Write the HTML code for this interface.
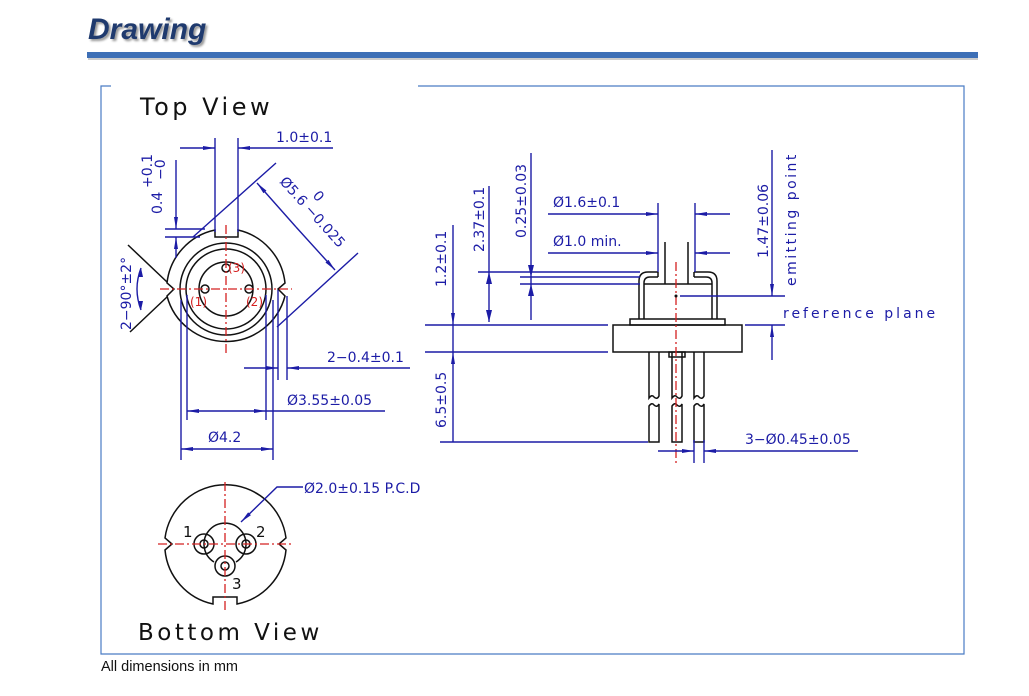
<!DOCTYPE html>
<html><head><meta charset="utf-8"><style>
html,body{margin:0;padding:0;background:#fff;}
svg{display:block;}
.d{fill:none;stroke:#1c1ca6;stroke-width:1.4}
.k{fill:none;stroke:#111;stroke-width:1.5}
.r{fill:none;stroke:#d42020;stroke-width:1.3;stroke-dasharray:9,3,2,3}
.t{font-family:"DejaVu Sans","Liberation Sans",sans-serif;font-size:14px;fill:#1c1ca6}
.b{font-family:"DejaVu Sans","Liberation Sans",sans-serif;fill:#111}
.a{fill:#1c1ca6;stroke:none}
</style></head><body>
<svg width="1029" height="696" viewBox="0 0 1029 696" xmlns="http://www.w3.org/2000/svg">
<defs>
<marker id="ar" markerWidth="12" markerHeight="6" refX="12" refY="3" orient="auto" markerUnits="userSpaceOnUse"><path d="M0,1 L12,3 L0,5z" fill="#1c1ca6"/></marker>
</defs>
<!-- header -->
<text x="88" y="39" font-family="Liberation Sans,sans-serif" font-size="30" font-style="italic" font-weight="bold" fill="#1f3a6e" style="text-shadow:2px 2px 2px #999">Drawing</text>
<rect x="88" y="55" width="890" height="5" fill="#aaa" opacity="0.6"/>
<rect x="87" y="52" width="891" height="6" fill="#3d6fb6"/>
<!-- frame -->
<path d="M111,86 H101 V654 H964 V86 H418" fill="none" stroke="#4a7cc4" stroke-width="1.2"/>
<text x="140" y="115" class="b" font-size="24" letter-spacing="3.5">Top View</text>
<text x="138" y="640" class="b" font-size="23" letter-spacing="3.5">Bottom View</text>
<text x="101" y="671" font-family="Liberation Sans,sans-serif" font-size="14.5" fill="#111">All dimensions in mm</text>

<!-- TOP VIEW -->
<path class="k" d="M215,230 A61,61 0 0 0 167,283 L174,289 L167,296 A61,61 0 0 0 285,296 L278,289 L285,283 A61,61 0 0 0 238,230 L238,237 L215,237 Z"/>
<circle class="k" cx="226" cy="289" r="46"/>
<circle class="k" cx="226" cy="289" r="40"/>
<circle class="k" cx="226" cy="289" r="27"/>
<circle class="k" cx="205" cy="289" r="4"/>
<circle class="k" cx="249" cy="289" r="4"/>
<circle class="k" cx="226" cy="268" r="4"/>
<path class="r" d="M226,225 V355 M160,289 H292"/>
<text x="228" y="272" font-family="DejaVu Sans,sans-serif" font-size="12" fill="#d42020">(3)</text>
<text x="190" y="306" font-family="DejaVu Sans,sans-serif" font-size="12" fill="#d42020">(1)</text>
<text x="246" y="306" font-family="DejaVu Sans,sans-serif" font-size="12" fill="#d42020">(2)</text>
<!-- 1.0 -->
<path class="d" d="M215,138 V232 M238,138 V232"/>
<path class="d" d="M180,148 H215" marker-end="url(#ar)"/><path class="d" d="M333,148 H238" marker-end="url(#ar)"/>
<text x="276" y="142" class="t">1.0±0.1</text>
<!-- 0.4 -->
<path class="d" d="M165,229 H205 M165,237 H200"/>
<path class="d" d="M176,160 V229" marker-end="url(#ar)"/><path class="d" d="M176,258 V237" marker-end="url(#ar)"/>
<text transform="translate(162,214) rotate(-90)" class="t">0.4</text>
<text transform="translate(152,188) rotate(-90)" class="t" font-size="12">+0.1</text>
<text transform="translate(165,180) rotate(-90)" class="t" font-size="12">−0</text>
<!-- 5.6 -->
<path class="d" d="M193,237 L276,163 M277,327 L358,253"/>
<path class="d" d="M296,227 L257,183" marker-end="url(#ar)"/><path class="d" d="M296,227 L335,270" marker-end="url(#ar)"/>
<text transform="translate(279,182) rotate(48)" class="t">Ø5.6 −0.025</text>
<text transform="translate(312,196) rotate(48)" class="t" font-size="12">0</text>
<!-- 90 deg -->
<path class="k" d="M128,245 L167,282 M130,332 L167,297"/>
<path class="d" d="M141,268 Q133,289 141,310"/>
<path class="a" d="M141,268 l-3,9 l5,0z M141,310 l-3,-9 l5,0z"/>
<text transform="translate(131,330) rotate(-90)" class="t">2−90°±2°</text>
<!-- 2-0.4 -->
<path class="d" d="M278,290 V380 M287,296 V380"/>
<path class="d" d="M244,368 H278" marker-end="url(#ar)"/><path class="d" d="M410,368 H287" marker-end="url(#ar)"/>
<text x="327" y="362" class="t">2−0.4±0.1</text>
<!-- 3.55 -->
<path class="d" d="M187,295 V420 M266,295 V420"/>
<path class="d" d="M226,411 H187" marker-end="url(#ar)"/><path class="d" d="M226,411 H266" marker-end="url(#ar)"/><path class="d" d="M266,411 H385"/>
<text x="287" y="405" class="t">Ø3.55±0.05</text>
<!-- 4.2 -->
<path class="d" d="M181,300 V460 M273,300 V460"/>
<path class="d" d="M227,449 H181" marker-end="url(#ar)"/><path class="d" d="M227,449 H273" marker-end="url(#ar)"/>
<text x="208" y="442" class="t">Ø4.2</text>

<!-- SIDE VIEW -->
<rect class="k" x="613" y="325" width="129" height="27"/>
<rect class="k" x="630" y="319" width="95" height="6"/>
<path class="k" d="M639,319 V281 Q639,272 648,272 H658 M694,272 H708 Q717,272 717,281 V319"/>
<path class="k" d="M644,319 V283 Q644,277 650,277 H658 M694,277 H706 Q712,277 712,283 V319"/>
<path class="k" d="M658,272 V277 M694,272 V277 M644,284 H712"/>
<path class="k" d="M665,242 V284 M688,242 V284"/>
<path class="k" d="M649,352 V398 Q652,394 654,397 Q657,400 659,396 V352 M672,352 V398 Q675,394 677,397 Q680,400 682,396 V352 M694,352 V398 Q697,394 699,397 Q702,400 704,396 V352"/>
<rect class="k" x="669" y="352" width="16" height="5"/>
<path class="k" d="M649,442 V406 Q652,402 654,405 Q657,408 659,404 V442 Z M672,442 V406 Q675,402 677,405 Q680,408 682,404 V442 Z M694,442 V406 Q697,402 699,405 Q702,408 704,404 V442 Z"/>
<path class="r" d="M676,262 V465"/>
<circle cx="676" cy="296" r="1.5" fill="#111"/>
<!-- dims side -->
<path class="d" d="M425,325 H608 M425,352 H608 M440,442 H648"/>
<path class="d" d="M453,225 V325" marker-end="url(#ar)"/><path class="d" d="M453,325 V352"/>
<path class="d" d="M453,442 V352" marker-end="url(#ar)"/>
<text transform="translate(446,287) rotate(-90)" class="t">1.2±0.1</text>
<text transform="translate(446,428) rotate(-90)" class="t">6.5±0.5</text>
<path class="d" d="M478,272 H640 M520,277 H640 M520,284 H640"/>
<path class="d" d="M489,186 V322 M531,153 V320"/>
<path class="a" d="M489,272 l-3,12 l6,0z M489,322 l-3,-12 l6,0z M531,277 l-3,-12 l6,0z M531,284 l-3,12 l6,0z"/>
<text transform="translate(484,252) rotate(-90)" class="t">2.37±0.1</text>
<text transform="translate(526,238) rotate(-90)" class="t">0.25±0.03</text>
<path class="d" d="M658,203 V272 M695,203 V272"/>
<path class="d" d="M548,214 H658" marker-end="url(#ar)"/><path class="d" d="M730,214 H695" marker-end="url(#ar)"/>
<path class="d" d="M548,253 H658" marker-end="url(#ar)"/><path class="d" d="M730,253 H695" marker-end="url(#ar)"/>
<text x="553" y="207" class="t">Ø1.6±0.1</text>
<text x="553" y="246" class="t">Ø1.0  min.</text>
<path class="d" d="M680,296 H785 M745,325 H785"/>
<path class="d" d="M772,150 V296" marker-end="url(#ar)"/><path class="d" d="M772,360 V325" marker-end="url(#ar)"/>
<text transform="translate(768,258) rotate(-90)" class="t">1.47±0.06</text>
<text transform="translate(796,286) rotate(-90)" class="t" font-size="15" letter-spacing="2.5">emitting point</text>
<text x="783" y="318" class="t" font-size="16" letter-spacing="3">reference plane</text>
<path class="d" d="M694,440 V463 M704,440 V463"/>
<path class="d" d="M658,451 H694" marker-end="url(#ar)"/><path class="d" d="M858,451 H704" marker-end="url(#ar)"/>
<text x="745" y="444" class="t">3−Ø0.45±0.05</text>

<!-- BOTTOM VIEW -->
<path class="k" d="M213,604 A61,61 0 0 1 165,550 L172,544 L165,538 A61,61 0 0 1 286,538 L279,544 L286,550 A61,61 0 0 1 237,604 L237,597 L213,597 Z"/>
<path class="k" d="M214,562 A21,21 0 1 1 236,562"/>
<circle class="k" cx="204" cy="544" r="10"/><circle class="k" cx="204" cy="544" r="4"/>
<circle class="k" cx="246" cy="544" r="10"/><circle class="k" cx="246" cy="544" r="4"/>
<circle class="k" cx="225" cy="566" r="10"/><circle class="k" cx="225" cy="566" r="4"/>
<path class="r" d="M225,482 V610 M158,544 H292"/>
<text x="183" y="537" class="b" font-size="15">1</text>
<text x="256" y="537" class="b" font-size="15">2</text>
<text x="232" y="589" class="b" font-size="15">3</text>
<path class="d" d="M303,487 H277 L241,522" marker-end="url(#ar)"/>
<text x="304" y="493" class="t">Ø2.0±0.15 P.C.D</text>
</svg>
</body></html>
